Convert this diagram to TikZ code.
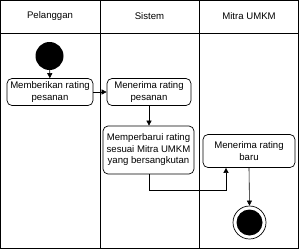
\documentclass[tikz,border=0pt]{standalone}
\usepackage{fontspec}
\setmainfont{Liberation Sans}
\usetikzlibrary{arrows.meta}
\begin{document}
\begin{tikzpicture}[x=1pt,y=-1pt,
  lane/.style={draw=black,line width=0.9pt},
  act/.style={draw=black,rounded corners=5pt,line width=0.7pt,fill=white,align=center,font=\fontsize{9.6}{11.5}\selectfont,inner sep=0pt},
  hdr/.style={font=\fontsize{9.6}{11.5}\selectfont},
  flow/.style={draw=black,line width=0.6pt,-{Triangle[length=5pt,width=5pt]}}]
\useasboundingbox (0,0) rectangle (299,249);
\fill[white] (0,0) rectangle (299,249);
% lanes
\draw[lane] (0.5,0.5) rectangle (298.5,248.5);
\draw[lane] (100,0.5) -- (100,248.5);
\draw[lane] (199,0.5) -- (199,248.5);
\draw[lane] (0.5,33) -- (298.5,33);
\node[hdr] (h1) at (50,16.5) {Pelanggan};
\node[hdr] (h2) at (149.5,16.5) {Sistem};
\node[hdr] (h3) at (249,16.5) {Mitra UMKM};
% nodes
\node[circle,fill=black,minimum size=28pt,inner sep=0pt] (start) at (49.5,56) {};
\node[act,minimum width=86pt,minimum height=27pt] (a1) at (50,92) {Memberikan rating\\pesanan};
\node[act,minimum width=84pt,minimum height=27pt] (a2) at (149,92) {Menerima rating\\pesanan};
\node[act,minimum width=91pt,minimum height=48pt] (a3) at (148.5,150) {Memperbarui rating\\sesuai Mitra UMKM\\yang bersangkutan};
\node[act,minimum width=92pt,minimum height=33pt] (a4) at (249,151) {Menerima rating\\baru};
\node[circle,draw=black,line width=0.7pt,minimum size=33pt,inner sep=0pt] (endo) at (249.5,222.5) {};
\node[circle,fill=black,minimum size=26pt,inner sep=0pt] (endi) at (endo) {};
% flows
\draw[flow] (start) -- (a1);
\draw[flow] (a1) -- (a2);
\draw[flow] (a2.south) -- (a2.south |- a3.north);
\coordinate (c1) at (149.5,190);
\draw[flow] (a3.south -| c1) -- (c1) -| ([xshift=-23pt]a4.south);
\draw[flow] (a4.south) -- (endo.north);
\end{tikzpicture}
\end{document}
